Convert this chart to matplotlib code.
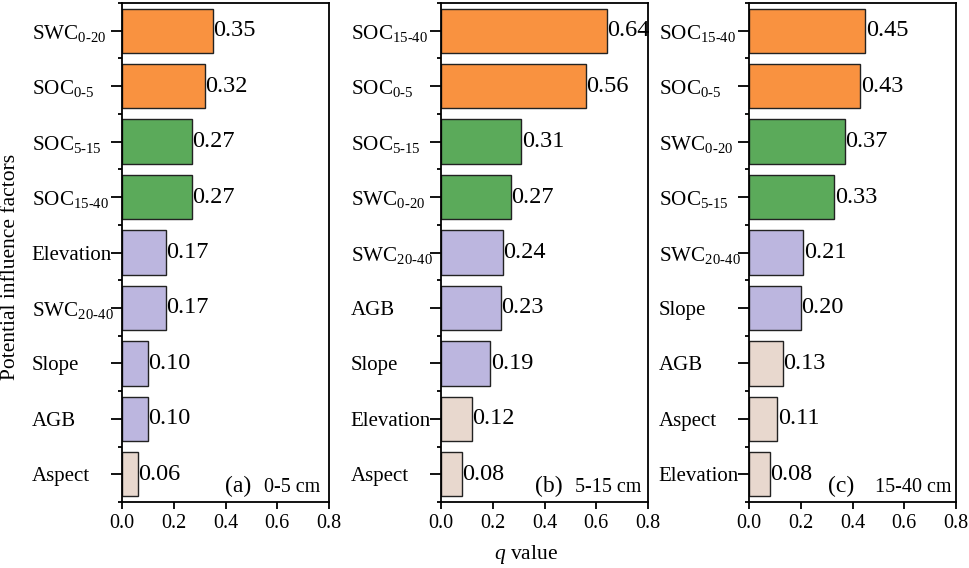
import matplotlib
matplotlib.use("Agg")
import matplotlib.pyplot as plt
import numpy as np
from matplotlib.ticker import FixedLocator

plt.rcParams['font.family'] = ['Liberation Serif', 'DejaVu Serif']
plt.rcParams['mathtext.fontset'] = 'custom'
plt.rcParams['mathtext.rm'] = 'Liberation Serif'
plt.rcParams['mathtext.it'] = 'Liberation Serif:italic'

H = '\u2010'
def lab(base, sub=None):
    if sub is None:
        return base
    return r'$\mathrm{%s}_{\mathrm{%s}}$' % (base, sub.replace('-', H))

# Panel (a) 0-5 cm
labels_a = [('SWC', '0-20'), ('SOC', '0-5'), ('SOC', '5-15'), ('SOC', '15-40'),
            ('Elevation', None), ('SWC', '20-40'), ('Slope', None), ('AGB', None), ('Aspect', None)]
values_a = [0.35, 0.32, 0.27, 0.27, 0.17, 0.17, 0.10, 0.10, 0.06]
groups_a = [0, 0, 1, 1, 2, 2, 2, 2, 3]

# Panel (b) 5-15 cm
labels_b = [('SOC', '15-40'), ('SOC', '0-5'), ('SOC', '5-15'), ('SWC', '0-20'),
            ('SWC', '20-40'), ('AGB', None), ('Slope', None), ('Elevation', None), ('Aspect', None)]
values_b = [0.64, 0.56, 0.31, 0.27, 0.24, 0.23, 0.19, 0.12, 0.08]
groups_b = [0, 0, 1, 1, 2, 2, 2, 3, 3]

# Panel (c) 15-40 cm
labels_c = [('SOC', '15-40'), ('SOC', '0-5'), ('SWC', '0-20'), ('SOC', '5-15'),
            ('SWC', '20-40'), ('Slope', None), ('AGB', None), ('Aspect', None), ('Elevation', None)]
values_c = [0.45, 0.43, 0.37, 0.33, 0.21, 0.20, 0.13, 0.11, 0.08]
groups_c = [0, 0, 1, 1, 2, 2, 3, 3, 3]

panel_tags = ['(a)', '(b)', '(c)']
depths = ['0-5 cm', '5-15 cm', '15-40 cm']
xticks = [0.0, 0.2, 0.4, 0.6, 0.8]

group_colors = ['#F99240', '#5BAA5A', '#BCB6DF', '#E8D8CE']

fig = plt.figure(figsize=(9.69, 5.68), dpi=100)
lefts = [122, 441, 749]
width_px = 207
bottom = 1 - 502 / 568
height = 499 / 568
tag_x = [0.623, 0.587, 0.51]
depth_x = [0.957, 0.966, 0.976]

panels = [(labels_a, values_a, groups_a), (labels_b, values_b, groups_b), (labels_c, values_c, groups_c)]
for k, (labels, values, groups) in enumerate(panels):
    ax = fig.add_axes([lefts[k] / 969, bottom, width_px / 969, height])
    n = len(values)
    y = np.arange(n)
    cols = [group_colors[g] for g in groups]
    ax.barh(y, values, height=0.8, color=cols, edgecolor='#222222', linewidth=1.0)
    ax.set_ylim(n - 0.5, -0.5)
    ax.set_xlim(0, 0.8)
    ax.set_xticks(xticks)
    ax.set_xticklabels(['%.1f' % t for t in xticks], fontsize=14.5)
    ax.set_yticks(y)
    ax.set_yticklabels([lab(b, s) for b, s in labels])
    ax.yaxis.set_minor_locator(FixedLocator(np.arange(-0.5, n, 1.0)))
    ax.tick_params(axis='y', which='major', direction='out', length=8, width=1.3, pad=57)
    ax.tick_params(axis='y', which='minor', direction='out', length=3, width=1.3)
    ax.tick_params(axis='x', which='major', direction='out', length=5, width=1.3, pad=4)
    for t, (b, s) in zip(ax.get_yticklabels(), labels):
        t.set_horizontalalignment('left')
        t.set_fontsize(15.2 if s else 15)
    for sp in ax.spines.values():
        sp.set_linewidth(1.3)
    for yi, v in zip(y, values):
        ax.text(v + 0.002, yi, '%.2f' % v, ha='left', va='center', fontsize=17.5, clip_on=False)
    ax.text(tag_x[k], 0.02, panel_tags[k], transform=ax.transAxes, ha='right', va='baseline', fontsize=17)
    ax.text(depth_x[k], 0.02, depths[k], transform=ax.transAxes, ha='right', va='baseline', fontsize=14.5)

fig.text(11 / 969, 1 - 267 / 568, 'Potential influence factors', rotation=90, ha='center', va='center', fontsize=15.5)
fig.text(526 / 969, 1 - 555 / 568, r'$q$ value', ha='center', va='center', fontsize=15.5)

fig.savefig('out.png', dpi=100)
